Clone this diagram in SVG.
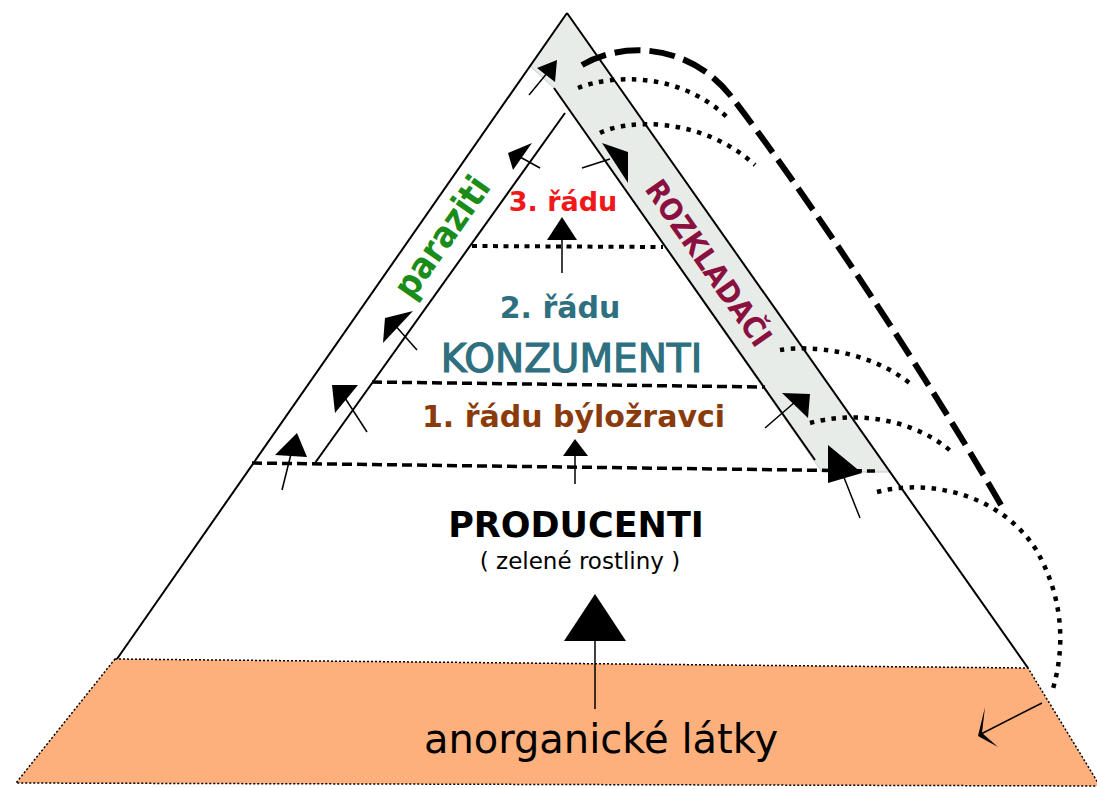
<svg xmlns="http://www.w3.org/2000/svg" width="1097" height="789" viewBox="0 0 1097 789">
<style>
.edge{fill:none;stroke:#000;stroke-width:2}
.stem{fill:none;stroke:#000;stroke-width:1.5}
.head{fill:#000;stroke:none}
.hd{fill:none;stroke:#000;stroke-width:3.5;stroke-dasharray:10 5}
.hdot{fill:none;stroke:#000;stroke-width:4;stroke-dasharray:5 5.5}
.dot{fill:none;stroke:#000;stroke-width:4.5;stroke-dasharray:4.5 6.5}
.bigdash{fill:none;stroke:#000;stroke-width:6;stroke-dasharray:26 9}
.t{font-family:"DejaVu Sans","Verdana",sans-serif;text-anchor:middle}
.c{font-family:"DejaVu Sans Condensed","DejaVu Sans",sans-serif;font-stretch:condensed;text-anchor:middle}
.b{font-weight:bold}
</style>
<rect width="1097" height="789" fill="#fff"/>
<g id="soil">
<polygon points="115,659 1028,668 1100,786 16,783" fill="#fdb07c" stroke="#000" stroke-width="1.5" stroke-dasharray="2 2"/>
<text class="t" x="601" y="753" font-size="40" fill="#000">anorganické látky</text>
</g>
<g id="decomposer-band">
<polygon points="567,13 890,472 822,472 554,88 530,66" fill="#e8ece8" stroke="#c8ccc8" stroke-width="1"/>
</g>
<g id="pyramid">
<line class="edge" x1="567" y1="13" x2="117" y2="659"/>
<line class="edge" x1="567" y1="13" x2="1028" y2="668"/>
<line class="edge" x1="315" y1="463" x2="565" y2="113"/>
<line class="edge" x1="554" y1="88" x2="815" y2="460"/>
</g>
<g id="levels">
<line class="hd" x1="252" y1="463" x2="875" y2="471"/>
<line class="hd" x1="372" y1="382" x2="765" y2="387"/>
<line class="hdot" x1="472" y1="246" x2="663" y2="247"/>
</g>
<g id="producenti">
<text class="t b" x="576" y="537" font-size="35" fill="#000">PRODUCENTI</text>
<text class="t" x="580" y="569" font-size="23" fill="#000">( zelené rostliny )</text>
</g>
<g id="konzumenti-1">
<text class="t b" x="573.5" y="427" font-size="30" fill="#8a3b0c">1. řádu býložravci</text>
</g>
<g id="konzumenti">
<text class="t" x="571.5" y="372" font-size="39" fill="#2e6f80" stroke="#2e6f80" stroke-width="1.2">KONZUMENTI</text>
<text class="t b" x="560" y="318" font-size="30" fill="#2e6f80">2. řádu</text>
</g>
<g id="konzumenti-3">
<text class="t b" x="563" y="211" font-size="27" fill="#f01818">3. řádu</text>
</g>
<g id="paraziti">
<text class="c b" transform="translate(452,244) rotate(-55)" font-size="36" fill="#1a8c1a">paraziti</text>
</g>
<g id="rozkladaci">
<text class="c b" transform="translate(700,269) rotate(55)" font-size="30" fill="#8a1040">ROZKLADAČI</text>
</g>
<g id="connectors">
<line class="stem" x1="595" y1="641" x2="595" y2="709"/>
<polygon class="head" points="595,594 564,641 626,641"/>
<line class="stem" x1="575" y1="455" x2="575" y2="484"/>
<polygon class="head" points="575,439 563,456 588,456"/>
<line class="stem" x1="562" y1="240" x2="562" y2="273"/>
<polygon class="head" points="562,217 547,240 577,240"/>
<line class="stem" x1="282" y1="490" x2="292" y2="450"/>
<polygon class="head" points="275,455 307,457 297,433"/>
<line class="stem" x1="367" y1="432" x2="345" y2="398"/>
<polygon class="head" points="332,385 358,385 335,413"/>
<line class="stem" x1="417" y1="350" x2="393" y2="323"/>
<polygon class="head" points="413,311 385,318 383,343"/>
<line class="stem" x1="540" y1="168" x2="520" y2="157"/>
<polygon class="head" points="532,143 508,153 513,170"/>
<line class="stem" x1="529" y1="95" x2="548" y2="72"/>
<polygon class="head" points="537,68 557,60 555,82"/>
<line class="stem" x1="582" y1="168" x2="610" y2="159"/>
<polygon class="head" points="602,143 628,152 628,183"/>
<line class="stem" x1="765" y1="428" x2="795" y2="402"/>
<polygon class="head" points="782,393 810,394 808,418"/>
<line class="stem" x1="860" y1="518" x2="843" y2="475"/>
<polygon class="head" points="828,445 828,483 862,473"/>
<path class="dot" d="M578,88 C610,75 680,70 730,120"/>
<path class="dot" d="M600,133 C625,120 700,115 755,165"/>
<path class="dot" d="M780,350 C810,345 870,350 912,385"/>
<path class="dot" d="M810,423 C850,412 910,415 953,453"/>
<path class="dot" d="M877,492 C930,478 1000,495 1035,548 C1060,590 1068,640 1052,692"/>
<path class="bigdash" d="M582,65 C625,40 690,45 730,95 C800,185 930,380 1005,512"/>
<line class="stem" x1="1042" y1="703" x2="981" y2="734"/>
<path class="head" d="M985,707 L978,736 L998,747 L982,733 Z"/>
</g>
</svg>
